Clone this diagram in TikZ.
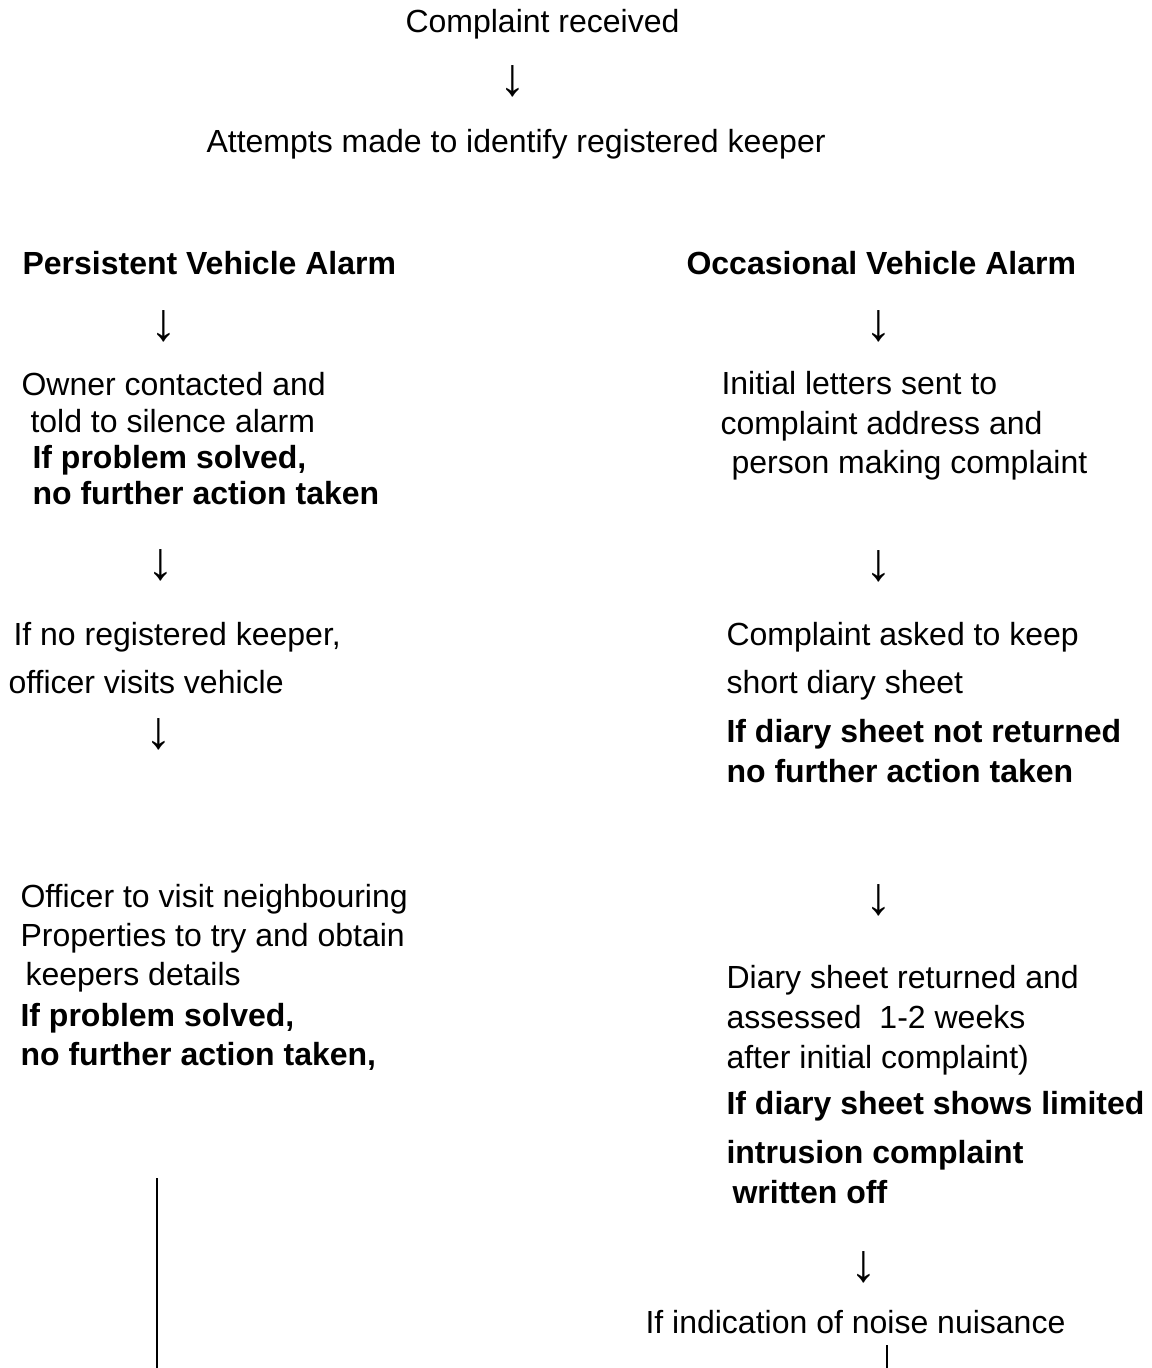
\documentclass[tikz,border=0pt]{standalone}
\usepackage{fontspec}
\setmainfont{Liberation Sans}
\usetikzlibrary{positioning}

\tikzset{
  txt/.style={anchor=base west, inner sep=0pt, font=\fontsize{12}{14}\selectfont},
  bold/.style={txt, font=\fontsize{12}{14}\selectfont\bfseries},
  arr/.style={anchor=center, inner sep=0pt, font=\fontsize{20}{22}\selectfont}
}

\begin{document}
\begin{tikzpicture}[x=0.375pt, y=-0.375pt]
    \useasboundingbox (0,0) rectangle (1151,1368);

    % Top of the chart
    \node (received) [txt] at (405,33) {Complaint received};
    \node (arrtop) [arr] at (513,81) {↓};
    \node (attempts) [txt] at (206,153) {Attempts made to identify registered keeper};

    % Two branches
    \node (persist) [bold] at (22,275) {Persistent Vehicle Alarm};
    \node (occas) [bold] at (686,275) {Occasional Vehicle Alarm};
    \node (arrpa) [arr] at (164,326) {↓};
    \node (arroa) [arr] at (879,326) {↓};

    % Persistent: owner contacted
    \node (owner1) [txt] at (21,396) {Owner contacted and};
    \node (owner2) [txt] at (30,433) {told to silence alarm};
    \node (owner3) [bold] at (32,468) {If problem solved,};
    \node (owner4) [bold] at (32,504) {no further action taken};

    % Occasional: initial letters
    \node (letter1) [txt] at (721,395) {Initial letters sent to};
    \node (letter2) [txt] at (720,434) {complaint address and};
    \node (letter3) [txt] at (731,473) {person making complaint};

    \node (arrpb) [arr] at (161,565) {↓};
    \node (arrob) [arr] at (879,566) {↓};

    % Persistent: no keeper
    \node (nokeep1) [txt] at (13,645) {If no registered keeper,};
    \node (nokeep2) [txt] at (8,693) {officer visits vehicle};
    \node (arrpc) [arr] at (159,734) {↓};

    % Occasional: diary sheet
    \node (diary1) [txt] at (726,645) {Complaint asked to keep};
    \node (diary2) [txt] at (726,693) {short diary sheet};
    \node (diary3) [bold] at (726,742) {If diary sheet not returned};
    \node (diary4) [bold] at (726,782) {no further action taken};

    % Persistent: neighbours
    \node (neigh1) [txt] at (20,907) {Officer to visit neighbouring};
    \node (neigh2) [txt] at (20,946) {Properties to try and obtain};
    \node (neigh3) [txt] at (25,985) {keepers details};
    \node (neigh4) [bold] at (20,1026) {If problem solved,};
    \node (neigh5) [bold] at (20,1065) {no further action taken,};

    % Occasional: diary returned
    \node (arroc) [arr] at (879,900) {↓};
    \node (ret1) [txt] at (726,988) {Diary sheet returned and};
    \node (ret2) [txt] at (726,1028) {assessed \ 1-2 weeks};
    \node (ret3) [txt] at (726,1068) {after initial complaint)};
    \node (ret4) [bold] at (726,1114) {If diary sheet shows limited};
    \node (ret5) [bold] at (726,1163) {intrusion complaint};
    \node (ret6) [bold] at (732,1203) {written off};

    \node (arrod) [arr] at (864,1267) {↓};
    \node (nuis) [txt] at (645,1333) {If indication of noise nuisance};

    % Lines running off the page
    \coordinate (lineatop) at (157,1178);
    \coordinate (lineabot) at (157,1368);
    \coordinate (linebtop) at (887,1345);
    \coordinate (linebbot) at (887,1368);
    \draw[line width=0.75pt] (lineatop) -- (lineabot);
    \draw[line width=0.5pt] (linebtop) -- (linebbot);
\end{tikzpicture}
\end{document}
